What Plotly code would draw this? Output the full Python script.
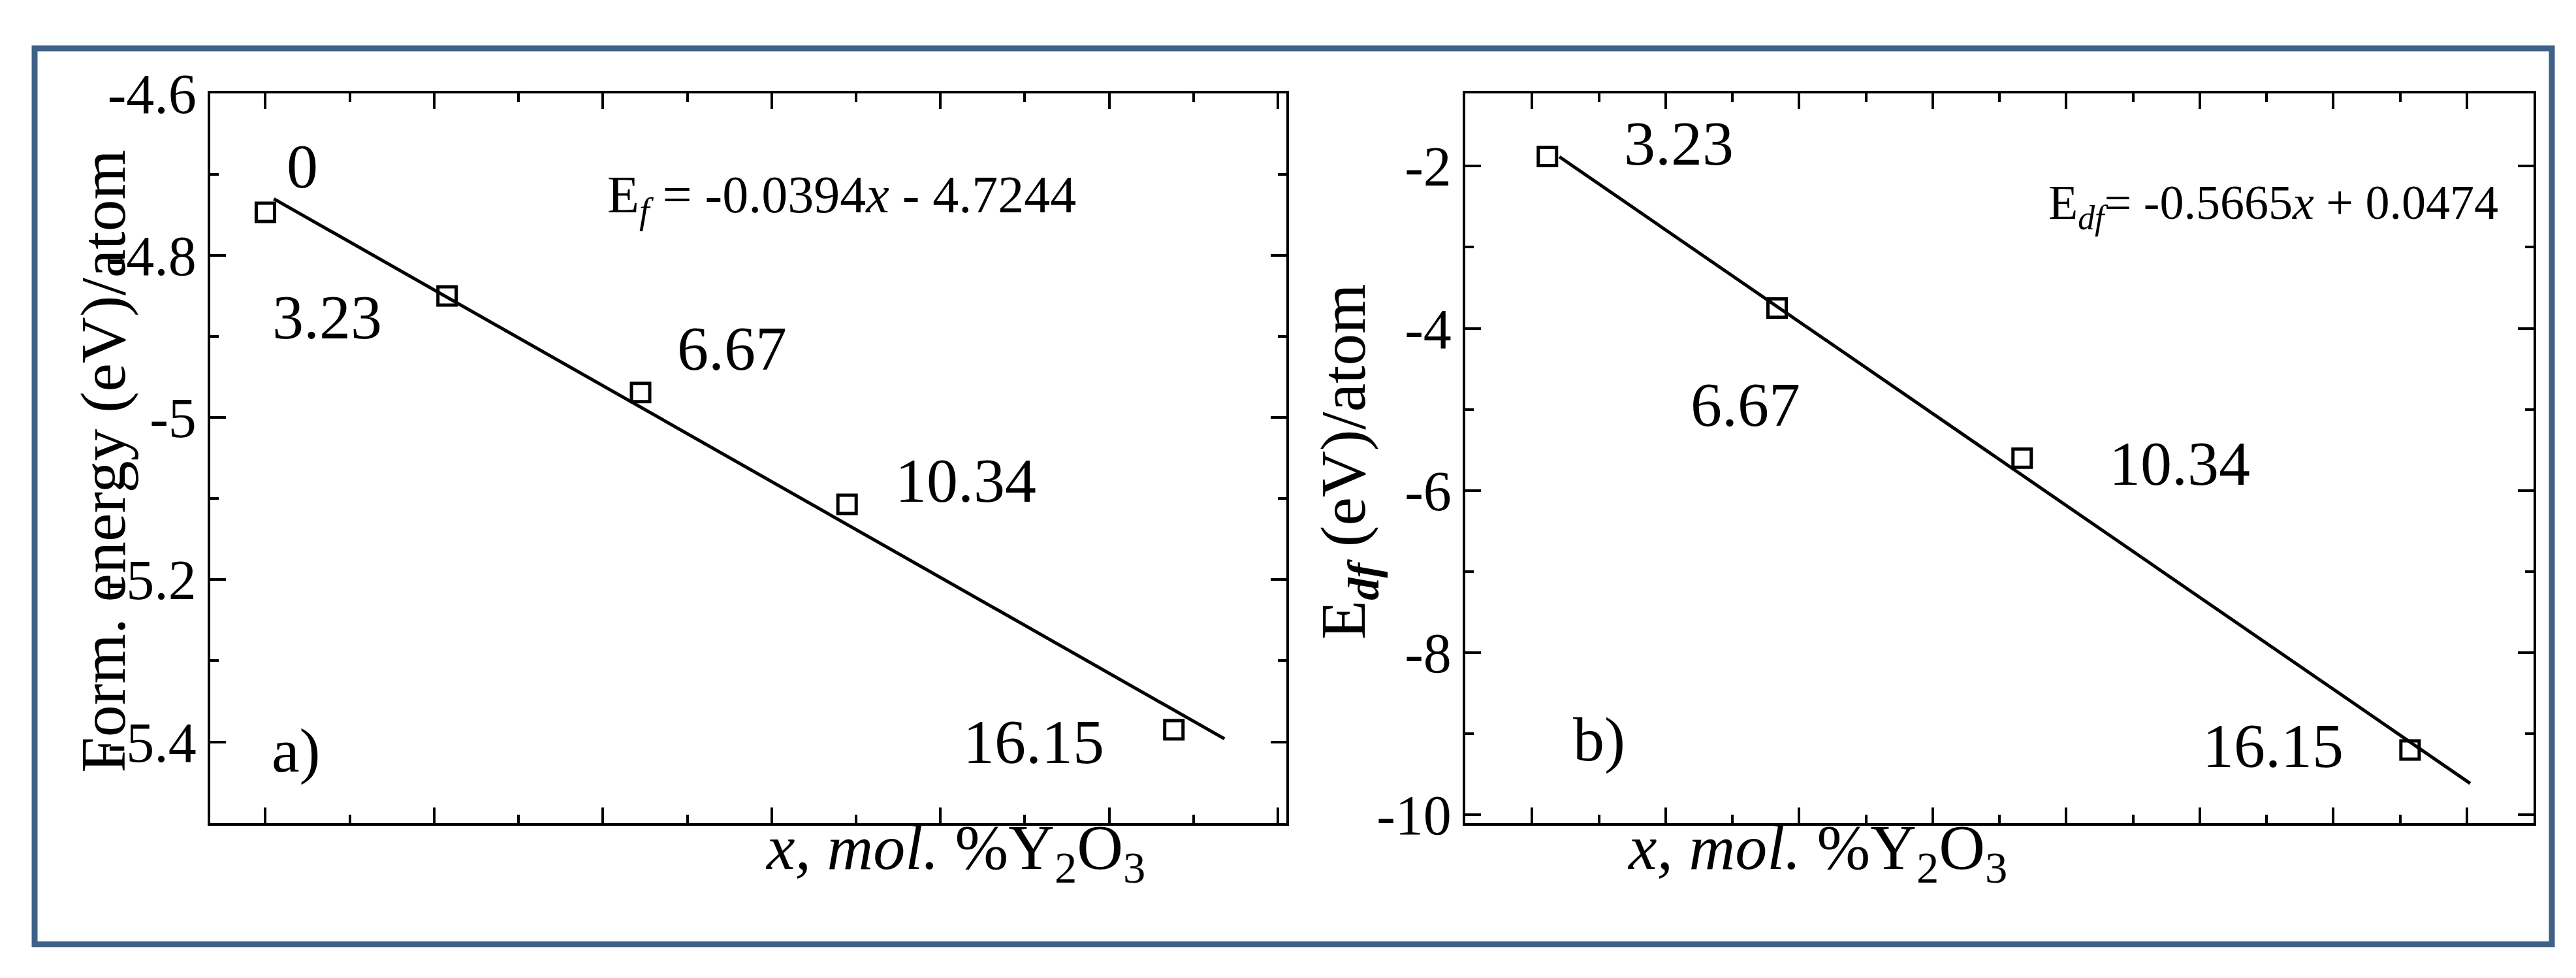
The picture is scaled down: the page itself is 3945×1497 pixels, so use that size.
import plotly.graph_objects as go

xa = [0, 3.23, 6.67, 10.34, 16.15]
ya = [-4.747, -4.85, -4.969, -5.107, -5.385]
fit_a_x = [0.15, 17.05]
fit_a_slope, fit_a_int = -0.0394, -4.7244

xb = [3.23, 6.67, 10.34, 16.15]
yb = [-1.88, -3.75, -5.6, -9.2]
fit_b_x = [3.41, 17.05]
fit_b_slope, fit_b_int = -0.5665, 0.0474

labels_a = ["0", "3.23", "6.67", "10.34", "16.15"]
labels_a_pos = [(0.66, -4.69), (1.1, -4.876), (8.3, -4.915), (12.45, -5.078), (13.66, -5.4)]
labels_b = ["3.23", "6.67", "10.34", "16.15"]
labels_b_pos = [(5.2, -1.72), (6.2, -4.94), (12.7, -5.67), (14.1, -9.15)]

ticks_a = [-4.6, -4.8, -5.0, -5.2, -5.4]
ticks_a_text = ["-4.6", "-4.8", "-5", "-5.2", "-5.4"]
ticks_b = [-2, -4, -6, -8, -10]
ticks_b_text = ["-2", "-4", "-6", "-8", "-10"]

FONT = "Liberation Serif, DejaVu Serif, Times New Roman, serif"
fig = go.Figure()
mk = dict(symbol="square-open", size=28, color="black", line=dict(width=5))
fig.add_trace(go.Scatter(x=fit_a_x, y=[fit_a_slope*v+fit_a_int for v in fit_a_x], mode="lines",
                         line=dict(color="black", width=5), xaxis="x", yaxis="y", showlegend=False))
fig.add_trace(go.Scatter(x=xa, y=ya, mode="markers", marker=mk, xaxis="x", yaxis="y", showlegend=False))
fig.add_trace(go.Scatter(x=fit_b_x, y=[fit_b_slope*v+fit_b_int for v in fit_b_x], mode="lines",
                         line=dict(color="black", width=5), xaxis="x2", yaxis="y2", showlegend=False))
fig.add_trace(go.Scatter(x=xb, y=yb, mode="markers", marker=mk, xaxis="x2", yaxis="y2", showlegend=False))

def f(s):
    return dict(size=s, family=FONT, color="black")

ann = []
for t, (px, py) in zip(labels_a, labels_a_pos):
    ann.append(dict(x=px, y=py, xref="x", yref="y", text=t, showarrow=False, font=f(96)))
for t, (px, py) in zip(labels_b, labels_b_pos):
    ann.append(dict(x=px, y=py, xref="x2", yref="y2", text=t, showarrow=False, font=f(96)))
ann.append(dict(x=0.55, y=-5.41, xref="x", yref="y", text="a)", showarrow=False, font=f(96)))
ann.append(dict(x=4.0, y=-9.07, xref="x2", yref="y2", text="b)", showarrow=False, font=f(96)))
ann.append(dict(x=10.25, y=-4.73, xref="x", yref="y", text="E<sub><i>f</i></sub> = -0.0394<i>x</i> - 4.7244",
                showarrow=False, font=f(80)))
ann.append(dict(x=14.1, y=-2.49, xref="x2", yref="y2", text="E<sub><i>df</i></sub>= -0.5665<i>x</i> + 0.0474",
                showarrow=False, font=f(74)))
ann.append(dict(x=94/3945, y=1-690/1497, xref="paper", yref="paper", text="Form. energy (eV)/atom", textangle=-90,
                showarrow=False, font=f(98)))
ann.append(dict(x=2057/3945, y=1-690/1497, xref="paper", yref="paper", text="E<sub><b><i>df</i></b></sub> (eV)/atom", textangle=-90,
                showarrow=False, font=f(98)))
for cx in [1162, 3068]:
    ann.append(dict(x=cx/3945, y=1-1390/1497, xref="paper", yref="paper",
                    text="<i>x, mol.</i> %Y<sub>2</sub>O<sub>3</sub>", showarrow=False, font=f(98)))

ax_common = dict(showline=True, linecolor="black", linewidth=4, mirror="ticks", ticks="inside",
                 ticklen=24, tickwidth=4, tickcolor="black", showgrid=False, zeroline=False,
                 tickfont=f(86))
minor = dict(ticks="inside", ticklen=13, tickwidth=4, tickcolor="black", showgrid=False)
fig.update_layout(
    width=3945, height=1497, paper_bgcolor="white", plot_bgcolor="white",
    margin=dict(l=0, r=0, t=0, b=0), annotations=ann, font=dict(family=FONT),
    xaxis=dict(domain=[314/3945, 1962/3945], range=[-0.98, 18.15], tick0=0, dtick=3,
               showticklabels=False, minor=dict(dtick=1.5, **minor), anchor="y", **ax_common),
    yaxis=dict(domain=[0.148, 0.938], range=[-5.5, -4.6], tickmode="array", tickvals=ticks_a, ticktext=ticks_a_text,
               minor=dict(dtick=0.1, tick0=-4.6, **minor), anchor="x", **ax_common),
    xaxis2=dict(domain=[2236/3945, 3872/3945], range=[2.0, 18.0], tick0=3, dtick=2,
                showticklabels=False, minor=dict(dtick=1, **minor), anchor="y2", **ax_common),
    yaxis2=dict(domain=[0.148, 0.938], range=[-10.1, -1.1], tickmode="array", tickvals=ticks_b, ticktext=ticks_b_text,
                minor=dict(dtick=1, tick0=-10, **minor), anchor="x2", **ax_common),
    shapes=[dict(type="rect", xref="paper", yref="paper", x0=45/3945, x1=3900/3945, y0=25/1497, y1=1-20/1497,
                 line=dict(color="#3f6185", width=9))],
)
fig.write_html("out.html")
